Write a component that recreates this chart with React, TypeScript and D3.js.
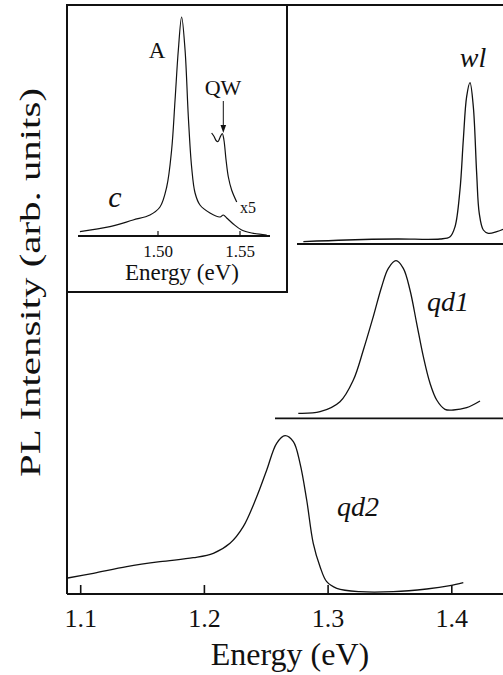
import React from "react";
import * as d3 from "d3";

// ---- Main panel data (energy in eV, intensity in arb. units above each trace's baseline)
const mainTicks = [1.1, 1.2, 1.3, 1.4];
const mainTickLabels = ["1.1", "1.2", "1.3", "1.4"];

const qd2Energy = [1.0895, 1.1102, 1.1372, 1.1641, 1.191, 1.2072, 1.2207, 1.2314, 1.2423, 1.2504, 1.2584, 1.2652, 1.2719, 1.2773, 1.2827, 1.288, 1.2935, 1.2989, 1.307, 1.3258, 1.3527, 1.3797, 1.3985, 1.4093];
const qd2Int = [16, 20.7, 27.3, 32.3, 36.3, 40.7, 50.7, 67.3, 97.3, 124, 150.7, 158.3, 152.3, 130.7, 94, 50.7, 27.3, 12.3, 5.7, 2.3, 2.3, 5, 8.3, 11.3];

const qd1Baseline = 175.7;
const qd1Energy = [1.2759, 1.2935, 1.3096, 1.3204, 1.3285, 1.3365, 1.3433, 1.3487, 1.3549, 1.3608, 1.3662, 1.3716, 1.377, 1.3824, 1.3878, 1.3945, 1.4012, 1.412, 1.4228];
const qd1Int = [5, 6.6, 16.6, 38.3, 68.3, 101.6, 131.6, 150, 157.6, 150, 128.3, 95, 61.6, 35, 18.3, 9, 8.3, 10.6, 17.3];

const wlBaseline = 350;
const wlEnergy = [1.28, 1.315, 1.3555, 1.3905, 1.3986, 1.4026, 1.4066, 1.4093, 1.412, 1.4147, 1.4174, 1.4201, 1.4222, 1.4255, 1.4295, 1.4363, 1.4414];
const wlInt = [2.3, 4, 5, 5, 7.3, 17.3, 54, 104, 147.3, 161.3, 137.3, 70.7, 30.7, 14, 10.7, 12.3, 14.7];

// ---- Inset data
const insetTicks = [1.5, 1.55];
const insetTickLabels = ["1.50", "1.55"];
const cEnergy = [1.4524, 1.4707, 1.4848, 1.4951, 1.5012, 1.5053, 1.5083, 1.5104, 1.5124, 1.5144, 1.5165, 1.5185, 1.5205, 1.5226, 1.5256, 1.5317, 1.5378, 1.5398, 1.5419, 1.5459, 1.551, 1.5571, 1.5663];
const cInt = [4.3, 9.3, 16, 21, 29, 49, 86, 136, 186, 219, 186, 119, 69, 43, 31, 23, 19, 21, 18, 12, 6, 3, 1];
const x5Energy = [1.5327, 1.5342, 1.5354, 1.5366, 1.5378, 1.5392, 1.5402, 1.5415, 1.5429, 1.5449, 1.548];
const x5Int = [103, 99.5, 95.5, 94.5, 98.5, 102.5, 96, 76, 59, 46, 34];

const W = 503;
const H = 675;
const FONT = "'Liberation Serif', 'Times New Roman', Times, serif";

export default function App() {
  // Main scales
  const x = d3.scaleLinear().domain([1.1, 1.4]).range([80.7, 451.8]);
  const y = d3.scaleLinear().domain([0, 589]).range([594, 5]);

  // Inset scales
  const xi = d3.scaleLinear().domain([1.5, 1.55]).range([158, 240]);
  const yi = d3.scaleLinear().domain([0, 231]).range([236, 5]);

  const mkLine = (xs: d3.ScaleLinear<number, number>, ys: d3.ScaleLinear<number, number>, off: number) =>
    d3
      .line<[number, number]>()
      .x((d) => xs(d[0]))
      .y((d) => ys(d[1] + off))
      .curve(d3.curveCatmullRom.alpha(0.5));

  const zip = (a: number[], b: number[]) => a.map((v, i) => [v, b[i]] as [number, number]);

  const qd2Path = mkLine(x, y, 0)(zip(qd2Energy, qd2Int)) || "";
  const qd1Path = mkLine(x, y, qd1Baseline)(zip(qd1Energy, qd1Int)) || "";
  const wlPath = mkLine(x, y, wlBaseline)(zip(wlEnergy, wlInt)) || "";
  const cPath = mkLine(xi, yi, 0)(zip(cEnergy, cInt)) || "";
  const x5Path = mkLine(xi, yi, 0)(zip(x5Energy, x5Int)) || "";

  const insetLeft = 67;
  const insetRight = 287;
  const insetTop = 5;
  const insetBottom = 292;
  const insetAxisStart = xi.invert(78);
  const insetAxisEnd = xi.invert(270);

  return (
    <svg
      width={W}
      height={H}
      style={{ position: "absolute", left: 0, top: 0, background: "#fff" }}
      fontFamily={FONT}
    >
      <defs>
        <clipPath id="plotClip">
          <rect x={67} y={5} width={W - 67} height={589} />
        </clipPath>
      </defs>

      {/* main frame: left axis, top border, bottom axis */}
      <line x1={67} x2={67} y1={y(589)} y2={y(0)} stroke="#111" strokeWidth={2} />
      <line x1={67} x2={W} y1={y(589)} y2={y(589)} stroke="#111" strokeWidth={2} />
      <line x1={67} x2={W} y1={y(0)} y2={y(0)} stroke="#111" strokeWidth={2} />
      {mainTicks.map((t, i) => (
        <g key={t}>
          <line x1={x(t)} x2={x(t)} y1={y(0)} y2={y(0) - 9} stroke="#111" strokeWidth={1.6} />
          <text x={x(t)} y={627} fontSize={26} textAnchor="middle" fill="#111">
            {mainTickLabels[i]}
          </text>
        </g>
      ))}
      <text x={290} y={665} fontSize={32} textAnchor="middle" fill="#111">
        Energy (eV)
      </text>
      <text
        transform="translate(40,282.5) rotate(-90)"
        fontSize={30}
        textAnchor="middle"
        textLength={389}
        lengthAdjust="spacingAndGlyphs"
        fill="#111"
      >
        PL Intensity (arb. units)
      </text>

      {/* offset baselines */}
      <line x1={297} x2={W} y1={y(wlBaseline)} y2={y(wlBaseline)} stroke="#111" strokeWidth={1.8} />
      <line x1={275} x2={W} y1={y(qd1Baseline)} y2={y(qd1Baseline)} stroke="#111" strokeWidth={1.8} />

      {/* traces */}
      <g clipPath="url(#plotClip)" fill="none" stroke="#111" strokeWidth={1.3}>
        <path d={qd2Path} />
        <path d={qd1Path} />
        <path d={wlPath} />
      </g>

      <text x={473} y={67} fontSize={28} fontStyle="italic" textAnchor="middle" fill="#111">
        wl
      </text>
      <text x={427} y={311} fontSize={28} fontStyle="italic" fill="#111">
        qd1
      </text>
      <text x={337} y={516} fontSize={28} fontStyle="italic" fill="#111">
        qd2
      </text>

      {/* inset */}
      <rect
        x={insetLeft}
        y={insetTop}
        width={insetRight - insetLeft}
        height={insetBottom - insetTop}
        fill="#fff"
        stroke="#111"
        strokeWidth={2}
      />
      <line x1={xi(insetAxisStart)} x2={xi(insetAxisEnd)} y1={yi(0)} y2={yi(0)} stroke="#111" strokeWidth={1.8} />
      {insetTicks.map((t, i) => (
        <g key={t}>
          <line x1={xi(t)} x2={xi(t)} y1={yi(0)} y2={yi(0) - 5} stroke="#111" strokeWidth={1.2} />
          <text x={xi(t)} y={257} fontSize={17} textAnchor="middle" fill="#111">
            {insetTickLabels[i]}
          </text>
        </g>
      ))}
      <text x={182} y={280} fontSize={23} textAnchor="middle" fill="#111">
        Energy (eV)
      </text>
      <g fill="none" stroke="#111" strokeWidth={1.2}>
        <path d={cPath} />
        <path d={x5Path} />
      </g>
      {/* QW arrow */}
      <line x1={223.3} x2={223.3} y1={101} y2={128} stroke="#111" strokeWidth={1} />
      <path d="M220.5,125 L223.3,133 L226.1,125 Z" fill="#111" />
      <text x={157} y={58} fontSize={23} textAnchor="middle" fill="#111">
        A
      </text>
      <text x={223} y={95} fontSize={22} textAnchor="middle" fill="#111">
        QW
      </text>
      <text x={115} y={207} fontSize={30} fontStyle="italic" textAnchor="middle" fill="#111">
        c
      </text>
      <text x={240} y={213} fontSize={16} fill="#111">
        x5
      </text>
    </svg>
  );
}
